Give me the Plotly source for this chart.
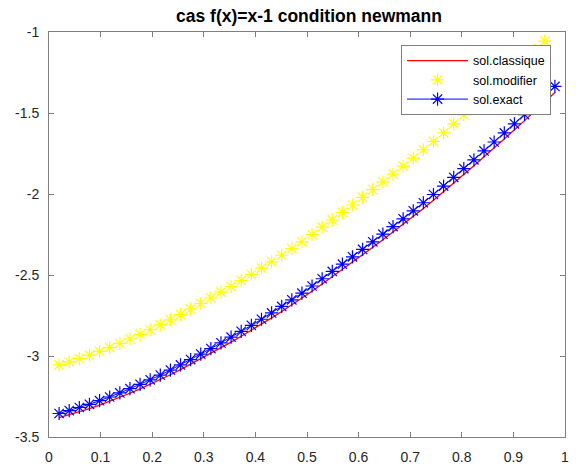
import plotly.graph_objects as go

# Mesh nodes x_i = i/51, i = 1..50
x_nodes = [0.0196, 0.0392, 0.0588, 0.0784, 0.0980, 0.1176, 0.1373, 0.1569, 0.1765, 0.1961,
           0.2157, 0.2353, 0.2549, 0.2745, 0.2941, 0.3137, 0.3333, 0.3529, 0.3725, 0.3922,
           0.4118, 0.4314, 0.4510, 0.4706, 0.4902, 0.5098, 0.5294, 0.5490, 0.5686, 0.5882,
           0.6078, 0.6275, 0.6471, 0.6667, 0.6863, 0.7059, 0.7255, 0.7451, 0.7647, 0.7843,
           0.8039, 0.8235, 0.8431, 0.8627, 0.8824, 0.9020, 0.9216, 0.9412, 0.9608, 0.9804]

sol_classique = [-3.381, -3.363, -3.345, -3.325, -3.303, -3.280, -3.256, -3.230, -3.203, -3.175,
                 -3.146, -3.116, -3.084, -3.051, -3.017, -2.984, -2.949, -2.914, -2.878, -2.842,
                 -2.804, -2.765, -2.725, -2.685, -2.644, -2.600, -2.555, -2.511, -2.466, -2.421,
                 -2.375, -2.329, -2.282, -2.235, -2.187, -2.139, -2.089, -2.038, -1.986, -1.933,
                 -1.879, -1.825, -1.770, -1.716, -1.660, -1.604, -1.547, -1.491, -1.433, -1.374]

sol_modifier = [-3.055, -3.036, -3.016, -2.995, -2.972, -2.948, -2.922, -2.895, -2.867, -2.838,
                -2.808, -2.777, -2.744, -2.711, -2.676, -2.642, -2.606, -2.571, -2.534, -2.497,
                -2.458, -2.419, -2.378, -2.337, -2.295, -2.251, -2.205, -2.160, -2.114, -2.068,
                -2.021, -1.973, -1.925, -1.877, -1.828, -1.778, -1.727, -1.675, -1.622, -1.567,
                -1.512, -1.457, -1.401, -1.345, -1.288, -1.231, -1.173, -1.115, -1.056, -0.996]

sol_exact = [-3.355, -3.337, -3.318, -3.298, -3.276, -3.253, -3.228, -3.202, -3.175, -3.147,
             -3.118, -3.087, -3.055, -3.022, -2.988, -2.954, -2.919, -2.884, -2.848, -2.811,
             -2.773, -2.734, -2.694, -2.653, -2.612, -2.568, -2.523, -2.478, -2.433, -2.388,
             -2.342, -2.295, -2.248, -2.201, -2.153, -2.104, -2.054, -2.003, -1.951, -1.897,
             -1.843, -1.789, -1.734, -1.679, -1.623, -1.567, -1.510, -1.453, -1.395, -1.336]

x_ticks = [0, 0.1, 0.2, 0.3, 0.4, 0.5, 0.6, 0.7, 0.8, 0.9, 1]
x_tick_labels = ["0", "0.1", "0.2", "0.3", "0.4", "0.5", "0.6", "0.7", "0.8", "0.9", "1"]
y_ticks = [-3.5, -3, -2.5, -2, -1.5, -1]
y_tick_labels = ["-3.5", "-3", "-2.5", "-2", "-1.5", "-1"]

FONT = "Liberation Sans, Arial, Helvetica, sans-serif"
AXIS_GRAY = "#7f7f7f"

fig = go.Figure()
fig.add_trace(go.Scatter(
    x=x_nodes, y=sol_classique, name="sol.classique", mode="lines",
    line=dict(color="#ff0000", width=1.3), cliponaxis=False))
fig.add_trace(go.Scatter(
    x=x_nodes, y=sol_modifier, name="sol.modifier", mode="markers",
    marker=dict(symbol="asterisk-open", size=11, color="#ffff00",
                line=dict(color="#ffff00", width=1.2)),
    cliponaxis=False))
fig.add_trace(go.Scatter(
    x=x_nodes, y=sol_exact, name="sol.exact", mode="lines+markers",
    line=dict(color="#0000ff", width=1),
    marker=dict(symbol="asterisk-open", size=11, color="#0000ff",
                line=dict(color="#0000ff", width=1.2)),
    cliponaxis=False))

axis_common = dict(
    showgrid=False, zeroline=False, showline=True, linecolor=AXIS_GRAY, linewidth=1,
    mirror="ticks", ticks="inside", ticklen=5, tickwidth=1, tickcolor=AXIS_GRAY,
    tickfont=dict(family=FONT, size=14, color="#262626"),
)

fig.update_xaxes(range=[0, 1], tickvals=x_ticks, ticktext=x_tick_labels,
                 ticklabelstandoff=7, **axis_common)
fig.update_yaxes(range=[-3.5, -1], tickvals=y_ticks, ticktext=y_tick_labels,
                 ticklabelstandoff=6, **axis_common)

fig.update_layout(
    width=576, height=472,
    margin=dict(l=49, r=7, t=32, b=31),
    paper_bgcolor="white", plot_bgcolor="white",
    title=dict(text="<b>cas f(x)=x-1 condition newmann</b>", x=(49 + 260) / 576,
               xanchor="center", y=1 - 16 / 472, yanchor="middle",
               font=dict(family=FONT, size=17.5, color="#000000")),
    legend=dict(x=0.973, y=0.968, xanchor="right", yanchor="top",
                bgcolor="white", bordercolor=AXIS_GRAY, borderwidth=1,
                font=dict(family=FONT, size=12.5, color="#000000"),
                tracegroupgap=0, itemwidth=61),
    showlegend=True,
)

fig.write_html("out.html")
